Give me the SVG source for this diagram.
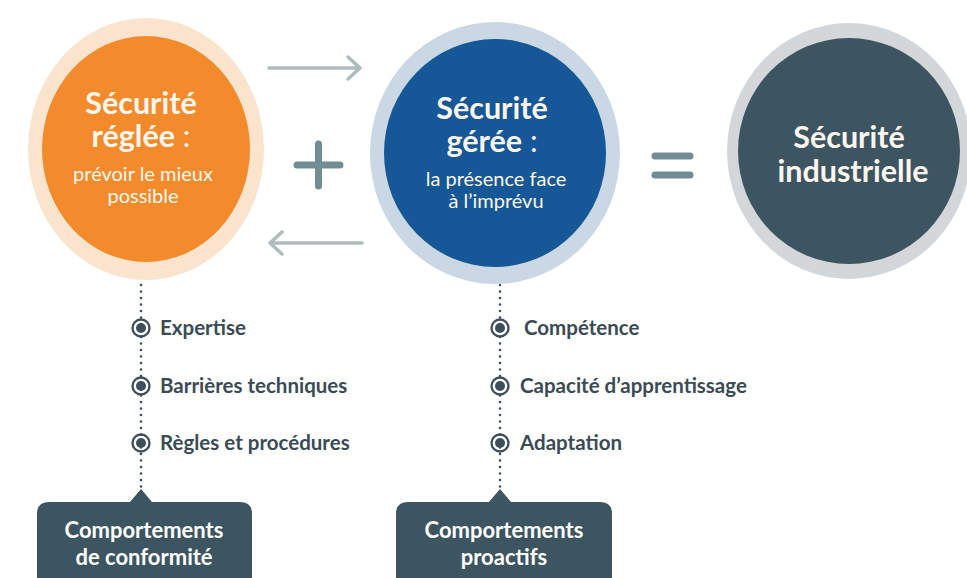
<svg xmlns="http://www.w3.org/2000/svg" width="967" height="578" viewBox="0 0 967 578">
<style>
.t{font-family:Lato,"Open Sans","Liberation Sans",sans-serif;fill:#fdf6ee;text-anchor:middle}
.h{font-size:30.5px;font-weight:700}
.c{font-size:30.5px;font-weight:400}
.s{font-size:20px;font-weight:400}
.it{font-family:Lato,"Open Sans","Liberation Sans",sans-serif;font-size:20.5px;font-weight:700;fill:#3b4b55}
.b{font-family:Lato,"Open Sans","Liberation Sans",sans-serif;font-size:22px;font-weight:700;fill:#fff;text-anchor:middle}
.dot{stroke:#3d4f5a;stroke-width:2.6;stroke-linecap:round;stroke-dasharray:0 6.5;fill:none}
.arr{stroke:#aebcbe;stroke-width:3.5;fill:none;stroke-linecap:round;stroke-linejoin:round}
.sym{stroke:#6f8d92;stroke-width:7;stroke-linecap:round;fill:none}
.box{fill:#3d5461}
</style>
<defs>
<g id="bul"><circle r="8.5" fill="none" stroke="#3d4f5a" stroke-width="2.3"/><circle r="5" fill="#3d4f5a"/></g>
</defs>
<rect width="967" height="578" fill="#fff"/>

<g id="connectors">
<path class="arr" d="M269 68 H360 M348 57 L360 68 L348 79"/>
<path class="arr" d="M362 243 H270 M282 232 L270 243 L282 254"/>
<path class="sym" d="M297 165 H340 M318.5 144 V186"/>
<path class="sym" d="M655 156 H690 M655 175 H690"/>
<path class="dot" d="M141 285 V500"/>
<path class="dot" d="M500 285 V500"/>
</g>

<g id="node-reglee">
<ellipse cx="146" cy="149" rx="118" ry="131" fill="#fbe4ce"/>
<ellipse cx="146" cy="149" rx="104" ry="113" fill="#f38a2b"/>
<text class="t h" x="141" y="114">Sécurité</text>
<text class="t" x="141" y="147"><tspan class="h">réglée</tspan><tspan class="c"> :</tspan></text>
<text class="t s" x="143" y="181">prévoir le mieux</text>
<text class="t s" x="143" y="203">possible</text>
</g>

<g id="node-geree">
<ellipse cx="495" cy="153" rx="125" ry="131" fill="#cad7e4"/>
<ellipse cx="495" cy="153" rx="111" ry="114" fill="#155797"/>
<text class="t h" x="492" y="119">Sécurité</text>
<text class="t" x="492" y="152"><tspan class="h">gérée</tspan><tspan class="c"> :</tspan></text>
<text class="t s" x="496" y="186">la présence face</text>
<text class="t s" x="496" y="208">à l’imprévu</text>
</g>

<g id="node-industrielle">
<ellipse cx="849" cy="151" rx="122" ry="128" fill="#d4d7d9"/>
<ellipse cx="849" cy="151" rx="111" ry="113" fill="#3d5461"/>
<text class="t h" x="849" y="148">Sécurité</text>
<text class="t h" x="853" y="182">industrielle</text>
</g>

<g id="item-expertise"><use href="#bul" x="141" y="328"/><text class="it" x="160" y="335">Expertise</text></g>
<g id="item-barrieres"><use href="#bul" x="141" y="386"/><text class="it" x="160" y="393">Barrières techniques</text></g>
<g id="item-regles"><use href="#bul" x="141" y="443"/><text class="it" x="160" y="450">Règles et procédures</text></g>

<g id="item-competence"><use href="#bul" x="500" y="328"/><text class="it" x="524" y="335">Compétence</text></g>
<g id="item-capacite"><use href="#bul" x="500" y="386"/><text class="it" x="520" y="393">Capacité d’apprentissage</text></g>
<g id="item-adaptation"><use href="#bul" x="500" y="443"/><text class="it" x="520" y="450">Adaptation</text></g>

<g id="box-conformite">
<path class="box" d="M49 502 H130 L141 489 L152 502 H240 Q252 502 252 514 V578 H37 V514 Q37 502 49 502 Z"/>
<text class="b" x="144" y="538">Comportements</text>
<text class="b" x="144" y="565">de conformité</text>
</g>

<g id="box-proactifs">
<path class="box" d="M408 502 H489 L500 489 L511 502 H600 Q612 502 612 514 V578 H396 V514 Q396 502 408 502 Z"/>
<text class="b" x="504" y="538">Comportements</text>
<text class="b" x="504" y="565">proactifs</text>
</g>
</svg>
